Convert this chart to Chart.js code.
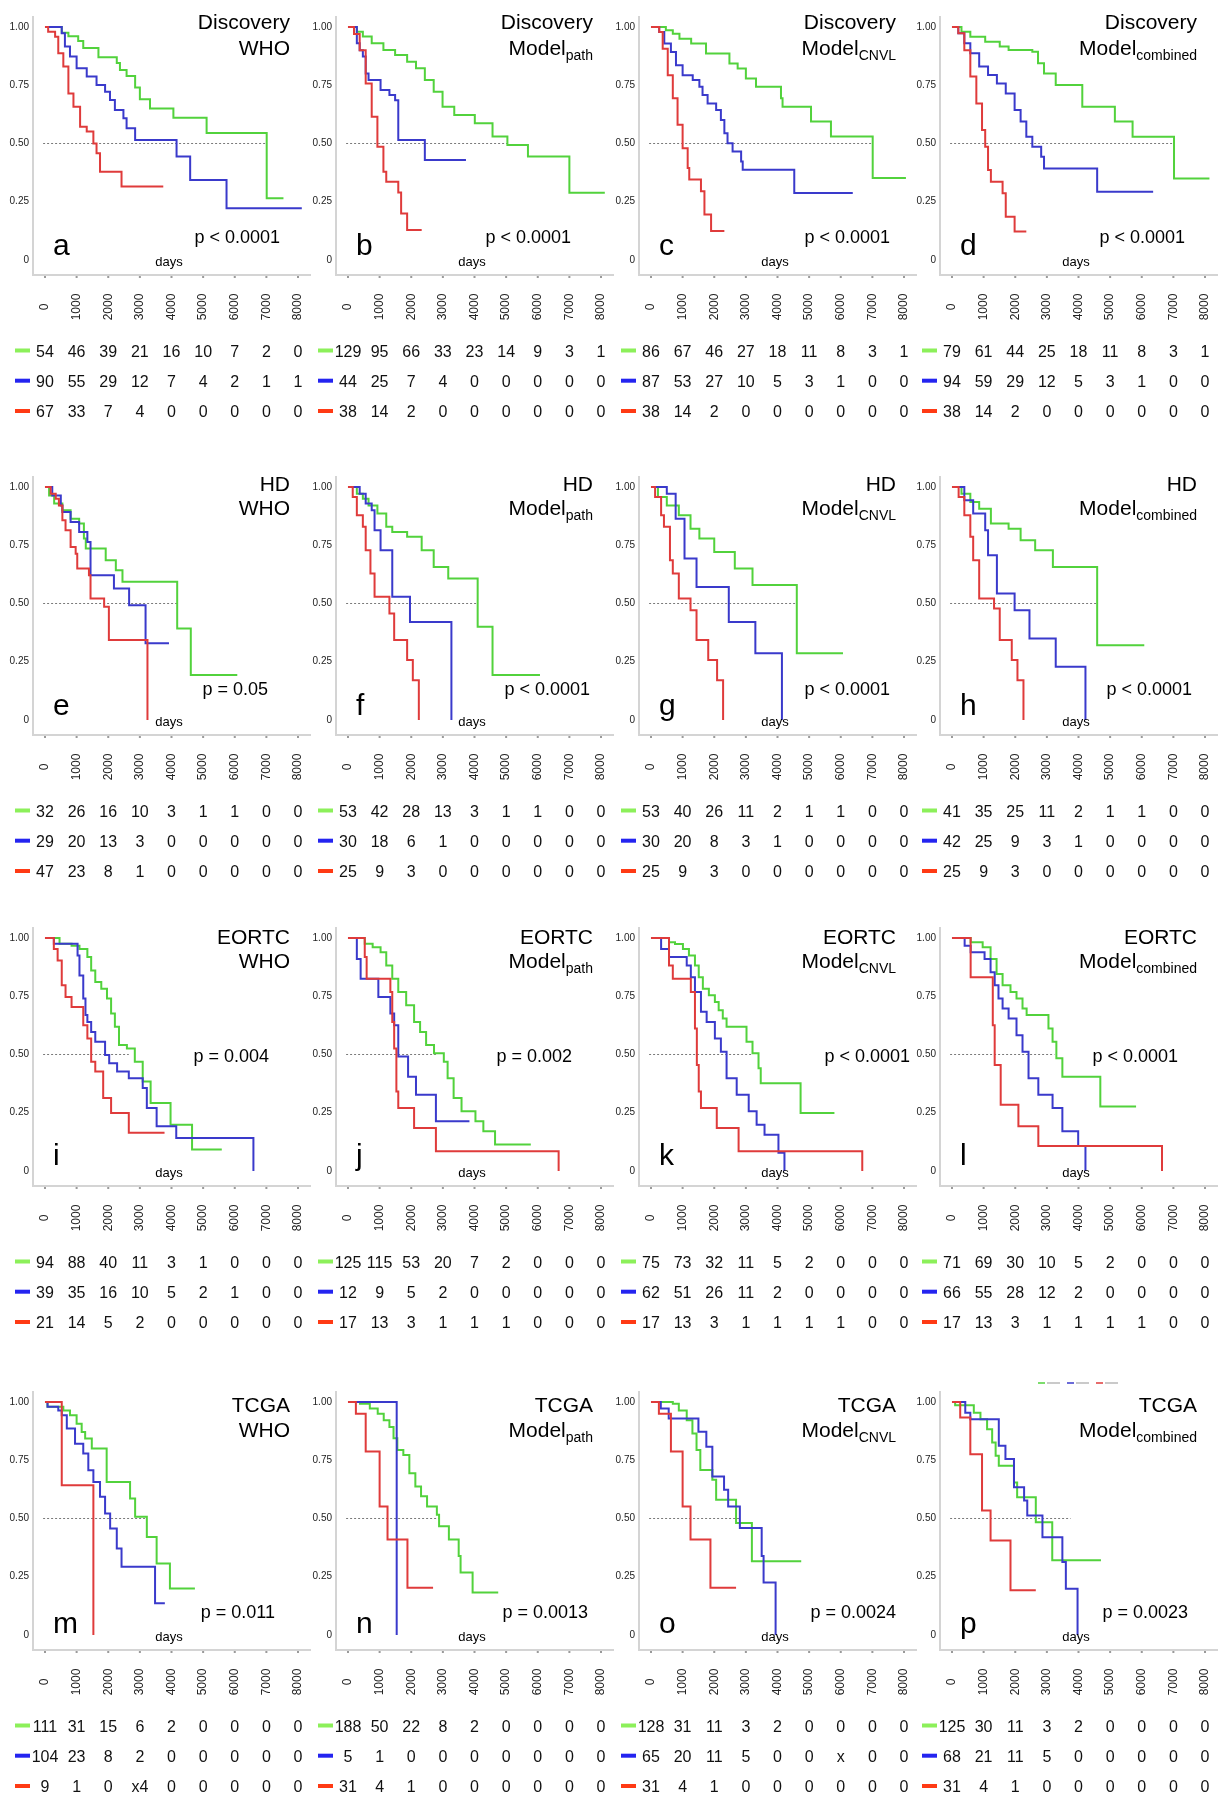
<!DOCTYPE html>
<html>
<head>
<meta charset="utf-8">
<script src="https://cdn.jsdelivr.net/npm/chart.js@4.4.0/dist/chart.umd.min.js"></script>
<style>
  body { margin: 0; background: #fff; }
  #fig { position: relative; width: 1225px; height: 1811px; overflow: hidden; }
  #fig canvas { position: absolute; }
</style>
</head>
<body>
<div id="fig"></div>
<script>
// ---- axis ticks ----
const dayTicks = [0, 1000, 2000, 3000, 4000, 5000, 6000, 7000, 8000];
const yTicks = [0, 0.25, 0.5, 0.75, 1];
const yTickLabels = ['0', '0.25', '0.50', '0.75', '1.00'];

// ---- Kaplan-Meier curves: [day, survival] ----
// Discovery
const aGreen = [[0,1],[530,0.975],[740,0.96],[1050,0.94],[1210,0.91],[1690,0.87],[2270,0.845],[2370,0.815],[2580,0.79],[2850,0.74],[3000,0.69],[3320,0.65],[4060,0.61],[5110,0.545],[7010,0.265],[7540,0.265]];
const aBlue = [[0,1],[530,0.973],[630,0.916],[790,0.873],[1000,0.823],[1320,0.787],[1630,0.751],[1900,0.722],[2055,0.687],[2210,0.644],[2480,0.608],[2580,0.565],[2850,0.515],[4160,0.444],[4590,0.343],[5740,0.222],[8120,0.222]];
const aRed = [[0,1],[100,0.98],[320,0.958],[420,0.887],[580,0.83],[740,0.715],[900,0.658],[1110,0.572],[1320,0.551],[1530,0.5],[1630,0.458],[1740,0.379],[2420,0.315],[3740,0.315]];

const bGreen = [[0,1],[280,0.98],[470,0.959],[750,0.93],[1120,0.901],[1490,0.88],[1870,0.851],[2150,0.823],[2430,0.773],[2710,0.722],[2990,0.658],[3360,0.622],[4010,0.587],[4570,0.53],[5040,0.494],[5690,0.444],[7000,0.289],[8120,0.289]];
const bBlue = [[0,1],[280,0.93],[370,0.9],[470,0.873],[560,0.8],[650,0.773],[1030,0.73],[1310,0.708],[1490,0.686],[1590,0.515],[2430,0.429],[3730,0.429]];
const bRed = [[0,1],[190,0.97],[370,0.9],[560,0.758],[750,0.615],[930,0.486],[1120,0.379],[1210,0.336],[1590,0.29],[1680,0.2],[1870,0.129],[2330,0.129]];

const cGreen = [[0,1],[470,0.986],[690,0.971],[900,0.95],[1270,0.929],[1740,0.886],[2480,0.843],[2740,0.822],[3000,0.779],[3320,0.744],[4110,0.694],[4160,0.658],[5060,0.594],[5690,0.53],[7010,0.352],[8060,0.352]];
const cBlue = [[0,1],[260,0.979],[420,0.929],[630,0.893],[790,0.836],[1000,0.793],[1320,0.772],[1530,0.744],[1630,0.708],[1790,0.672],[2060,0.644],[2210,0.601],[2320,0.544],[2420,0.501],[2580,0.466],[2850,0.423],[2900,0.387],[4530,0.288],[6380,0.288]];
const cRed = [[0,1],[260,0.979],[370,0.907],[530,0.793],[690,0.694],[840,0.58],[1000,0.48],[1160,0.395],[1210,0.345],[1580,0.295],[1690,0.195],[1900,0.124],[2320,0.124]];

const dGreen = [[0,1],[300,0.98],[580,0.958],[1050,0.937],[1510,0.916],[1790,0.901],[2540,0.894],[2720,0.844],[2910,0.8],[3280,0.751],[4120,0.658],[5150,0.594],[5710,0.529],[7020,0.35],[8140,0.35]];
const dBlue = [[0,1],[200,0.973],[390,0.93],[580,0.887],[860,0.83],[1140,0.794],[1420,0.758],[1700,0.715],[1980,0.644],[2170,0.594],[2350,0.529],[2540,0.486],[2820,0.443],[2910,0.393],[4590,0.293],[6360,0.293]];
const dRed = [[0,1],[200,0.973],[390,0.9],[580,0.787],[770,0.672],[950,0.558],[1050,0.486],[1140,0.386],[1230,0.336],[1600,0.286],[1700,0.186],[1980,0.122],[2350,0.122]];

// HD
const eGreen = [[0,1],[130,0.964],[290,0.929],[550,0.9],[810,0.864],[1080,0.843],[1230,0.779],[1290,0.736],[1920,0.686],[2240,0.643],[2450,0.593],[4180,0.393],[4610,0.193],[6080,0.193]];
const eBlue = [[0,1],[230,0.964],[500,0.921],[550,0.893],[810,0.85],[1080,0.807],[1340,0.764],[1440,0.621],[2180,0.564],[2660,0.493],[3180,0.329],[3920,0.329]];
const eRed = [[0,1],[180,0.971],[340,0.95],[440,0.921],[550,0.857],[650,0.814],[810,0.743],[970,0.714],[1020,0.65],[1390,0.621],[1440,0.521],[1870,0.486],[2020,0.343],[3240,0]];

const fGreen = [[0,1],[280,0.971],[470,0.95],[650,0.921],[930,0.886],[1210,0.829],[1400,0.807],[1870,0.786],[2330,0.729],[2710,0.657],[3170,0.607],[4100,0.4],[4570,0.193],[6070,0.193]];
const fBlue = [[0,1],[370,0.971],[560,0.929],[750,0.9],[840,0.814],[1030,0.729],[1400,0.529],[1960,0.421],[3270,0]];
const fRed = [[0,1],[150,0.957],[280,0.879],[470,0.829],[560,0.729],[710,0.629],[840,0.529],[1310,0.457],[1460,0.343],[1870,0.257],[2050,0.171],[2240,0]];

const gGreen = [[0,1],[220,0.957],[500,0.921],[880,0.879],[1250,0.821],[1530,0.779],[2000,0.721],[2650,0.65],[3210,0.579],[4610,0.286],[6070,0.286]];
const gBlue = [[0,1],[500,0.971],[780,0.864],[1060,0.693],[1440,0.571],[2460,0.421],[3300,0.286],[4140,0]];
const gRed = [[0,1],[130,0.957],[320,0.879],[410,0.829],[600,0.686],[690,0.629],[880,0.521],[1250,0.471],[1440,0.343],[1810,0.257],[2090,0.171],[2280,0]];

const hGreen = [[0,1],[300,0.971],[580,0.936],[860,0.907],[1230,0.843],[1790,0.821],[2170,0.771],[2630,0.729],[3190,0.657],[4590,0.321],[6080,0.321]];
const hBlue = [[0,1],[390,0.943],[670,0.886],[1050,0.814],[1140,0.707],[1420,0.543],[1980,0.471],[2450,0.35],[3280,0.229],[4220,0]];
const hRed = [[0,1],[210,0.957],[390,0.879],[580,0.786],[670,0.686],[860,0.521],[1330,0.479],[1510,0.343],[1890,0.257],[2070,0.171],[2260,0]];

// EORTC
const iGreen = [[0,1],[460,0.975],[840,0.967],[1090,0.953],[1340,0.918],[1460,0.861],[1590,0.811],[1780,0.782],[1960,0.74],[2090,0.676],[2210,0.619],[2340,0.541],[2590,0.526],[2840,0.469],[3090,0.384],[3340,0.292],[3970,0.199],[4650,0.092],[5590,0.092]];
const iBlue = [[0,1],[280,0.975],[1030,0.925],[1090,0.839],[1210,0.74],[1280,0.669],[1340,0.64],[1460,0.597],[1590,0.555],[1900,0.498],[2030,0.462],[2280,0.427],[2650,0.398],[3090,0.356],[3220,0.27],[3530,0.192],[4150,0.142],[6590,0]];
const iRed = [[0,1],[280,0.953],[400,0.903],[530,0.797],[650,0.747],[840,0.704],[1210,0.626],[1340,0.569],[1460,0.469],[1590,0.427],[1840,0.313],[2090,0.249],[2650,0.164],[3780,0.164]];

const jGreen = [[0,1],[530,0.975],[780,0.96],[1030,0.939],[1210,0.882],[1400,0.825],[1590,0.768],[1840,0.711],[2090,0.64],[2280,0.597],[2470,0.541],[2720,0.505],[3030,0.469],[3150,0.398],[3340,0.313],[3590,0.256],[4030,0.213],[4280,0.171],[4650,0.114],[5780,0.114]];
const jBlue = [[0,1],[280,0.91],[400,0.825],[960,0.747],[1340,0.676],[1460,0.626],[1590,0.491],[1900,0.405],[2150,0.327],[2780,0.213],[3840,0.213]];
const jRed = [[0,1],[530,0.918],[590,0.825],[1340,0.768],[1400,0.64],[1460,0.526],[1530,0.341],[1590,0.27],[2090,0.185],[2780,0.085],[6660,0]];

const kGreen = [[0,1],[570,0.982],[760,0.974],[1010,0.953],[1200,0.925],[1390,0.882],[1510,0.832],[1640,0.782],[1830,0.754],[2020,0.725],[2140,0.69],[2270,0.654],[2390,0.619],[3020,0.555],[3210,0.505],[3400,0.441],[3470,0.377],[4730,0.249],[5800,0.249]];
const kBlue = [[0,1],[320,0.953],[570,0.918],[1130,0.882],[1260,0.832],[1390,0.768],[1580,0.683],[1760,0.64],[2020,0.569],[2210,0.512],[2390,0.398],[2710,0.327],[3090,0.256],[3340,0.199],[3590,0.156],[4030,0.078],[4220,0]];
const kRed = [[0,1],[570,0.882],[690,0.825],[1260,0.768],[1390,0.612],[1450,0.455],[1510,0.341],[1580,0.27],[2080,0.185],[2770,0.085],[6680,0]];

const lGreen = [[0,1],[590,0.982],[970,0.96],[1220,0.91],[1410,0.846],[1600,0.797],[1850,0.768],[2040,0.74],[2230,0.697],[2360,0.669],[3050,0.612],[3180,0.555],[3300,0.484],[3490,0.405],[4690,0.277],[5820,0.277]];
const lBlue = [[0,1],[400,0.967],[590,0.939],[1030,0.91],[1220,0.853],[1350,0.797],[1470,0.74],[1600,0.697],[1790,0.654],[2040,0.583],[2230,0.512],[2420,0.398],[2730,0.327],[3180,0.27],[3490,0.171],[3990,0.107],[4220,0]];
const lRed = [[0,1],[590,0.832],[1290,0.626],[1350,0.455],[1540,0.284],[2100,0.192],[2730,0.107],[6640,0]];

// TCGA
const mGreen = [[0,1],[80,0.98],[580,0.964],[790,0.943],[1000,0.907],[1160,0.871],[1270,0.843],[1480,0.8],[1950,0.657],[2690,0.586],[2850,0.507],[3220,0.421],[3530,0.307],[3950,0.2],[4740,0.2]];
const mBlue = [[0,1],[80,0.98],[420,0.964],[530,0.943],[690,0.886],[950,0.821],[1210,0.779],[1370,0.707],[1530,0.657],[1740,0.593],[1900,0.521],[2060,0.457],[2270,0.371],[2420,0.293],[3480,0.136],[3790,0.136]];
const mRed = [[0,1],[530,0.643],[1530,0]];

const nGreen = [[0,1],[380,0.993],[690,0.972],[940,0.95],[1130,0.922],[1310,0.893],[1440,0.844],[1560,0.794],[1750,0.772],[1940,0.694],[2130,0.637],[2310,0.595],[2500,0.552],[2810,0.516],[2880,0.467],[3190,0.41],[3500,0.339],[3560,0.268],[3940,0.182],[4750,0.182]];
const nBlue = [[0,1],[1540,0]];
const nRed = [[0,1],[250,0.95],[560,0.787],[1000,0.552],[1250,0.41],[1880,0.203],[2690,0.203]];

const oGreen = [[0,1],[690,0.993],[880,0.964],[1130,0.922],[1310,0.865],[1440,0.794],[1560,0.708],[1940,0.666],[2060,0.58],[2690,0.481],[3190,0.317],[4750,0.317]];
const oBlue = [[0,1],[310,0.972],[560,0.929],[1500,0.872],[1750,0.808],[1940,0.68],[2310,0.623],[2440,0.552],[2810,0.459],[3500,0.339],[3560,0.225],[3940,0]];
const oRed = [[0,1],[250,0.95],[630,0.787],[1000,0.552],[1250,0.41],[1880,0.203],[2690,0.203]];

const pGreen = [[0,1],[100,0.986],[690,0.954],[900,0.926],[1110,0.883],[1270,0.826],[1380,0.769],[1480,0.726],[1960,0.655],[2060,0.591],[2650,0.484],[3170,0.321],[4710,0.321]];
const pBlue = [[0,1],[420,0.954],[580,0.926],[1480,0.812],[1690,0.755],[1960,0.634],[2280,0.577],[2380,0.513],[2860,0.42],[3490,0.313],[3600,0.199],[3970,0]];
const pRed = [[0,1],[260,0.933],[580,0.776],[950,0.534],[1220,0.406],[1850,0.192],[2650,0.192]];

// ---- numbers at risk (green, blue, red) ----
const aRisk = [[54,46,39,21,16,10,7,2,0],[90,55,29,12,7,4,2,1,1],[67,33,7,4,0,0,0,0,0]];
const bRisk = [[129,95,66,33,23,14,9,3,1],[44,25,7,4,0,0,0,0,0],[38,14,2,0,0,0,0,0,0]];
const cRisk = [[86,67,46,27,18,11,8,3,1],[87,53,27,10,5,3,1,0,0],[38,14,2,0,0,0,0,0,0]];
const dRisk = [[79,61,44,25,18,11,8,3,1],[94,59,29,12,5,3,1,0,0],[38,14,2,0,0,0,0,0,0]];
const eRisk = [[32,26,16,10,3,1,1,0,0],[29,20,13,3,0,0,0,0,0],[47,23,8,1,0,0,0,0,0]];
const fRisk = [[53,42,28,13,3,1,1,0,0],[30,18,6,1,0,0,0,0,0],[25,9,3,0,0,0,0,0,0]];
const gRisk = [[53,40,26,11,2,1,1,0,0],[30,20,8,3,1,0,0,0,0],[25,9,3,0,0,0,0,0,0]];
const hRisk = [[41,35,25,11,2,1,1,0,0],[42,25,9,3,1,0,0,0,0],[25,9,3,0,0,0,0,0,0]];
const iRisk = [[94,88,40,11,3,1,0,0,0],[39,35,16,10,5,2,1,0,0],[21,14,5,2,0,0,0,0,0]];
const jRisk = [[125,115,53,20,7,2,0,0,0],[12,9,5,2,0,0,0,0,0],[17,13,3,1,1,1,0,0,0]];
const kRisk = [[75,73,32,11,5,2,0,0,0],[62,51,26,11,2,0,0,0,0],[17,13,3,1,1,1,1,0,0]];
const lRisk = [[71,69,30,10,5,2,0,0,0],[66,55,28,12,2,0,0,0,0],[17,13,3,1,1,1,1,0,0]];
const mRisk = [[111,31,15,6,2,0,0,0,0],[104,23,8,2,0,0,0,0,0],[9,1,0,'x4',0,0,0,0,0]];
const nRisk = [[188,50,22,8,2,0,0,0,0],[5,1,0,0,0,0,0,0,0],[31,4,1,0,0,0,0,0,0]];
const oRisk = [[128,31,11,3,2,0,0,0,0],[65,20,11,5,0,0,'x',0,0],[31,4,1,0,0,0,0,0,0]];
const pRisk = [[125,30,11,3,2,0,0,0,0],[68,21,11,5,0,0,0,0,0],[31,4,1,0,0,0,0,0,0]];

// ---- labels ----
const cohorts = ['Discovery', 'HD', 'EORTC', 'TCGA'];
const models = [['WHO', ''], ['Model', 'path'], ['Model', 'CNVL'], ['Model', 'combined']];
const letters = ['a','b','c','d','e','f','g','h','i','j','k','l','m','n','o','p'];
const pValues = ['p < 0.0001','p < 0.0001','p < 0.0001','p < 0.0001',
                 'p = 0.05','p < 0.0001','p < 0.0001','p < 0.0001',
                 'p = 0.004','p = 0.002','p < 0.0001','p < 0.0001',
                 'p = 0.011','p = 0.0013','p = 0.0024','p = 0.0023'];
// where the dotted median line stops (days)
const medianEnd = [7010, 5040, 7010, 7020, 4180, 4100, 4610, 4590, 2650, 2780, 3210, 3240, 3160, 2880, 2810, 3750];

const curves = [
  [aGreen, aBlue, aRed], [bGreen, bBlue, bRed], [cGreen, cBlue, cRed], [dGreen, dBlue, dRed],
  [eGreen, eBlue, eRed], [fGreen, fBlue, fRed], [gGreen, gBlue, gRed], [hGreen, hBlue, hRed],
  [iGreen, iBlue, iRed], [jGreen, jBlue, jRed], [kGreen, kBlue, kRed], [lGreen, lBlue, lRed],
  [mGreen, mBlue, mRed], [nGreen, nBlue, nRed], [oGreen, oBlue, oRed], [pGreen, pBlue, pRed]
];
const risks = [aRisk, bRisk, cRisk, dRisk, eRisk, fRisk, gRisk, hRisk, iRisk, jRisk, kRisk, lRisk, mRisk, nRisk, oRisk, pRisk];

// ---- layout ----
const W = 320, H = 425;
const colX = [0, 303, 606, 907];
const rowY = [0, 460, 911, 1375];
const title1Y = [29, 31, 33, 37];
const title2Y = [55, 55, 57, 62];
const letterY = [255, 255, 254, 258];
const pY = [243, 235, 151, 243];
const pRight = [280, 268, 284, 278, 268, 287, 284, 285, 269, 269, 304, 271, 275, 285, 290, 281];
const riskY = [350.5, 380.7, 411];
const lineColors = ['#52d23c', '#3a3acb', '#df3b3b'];
const glowColors = ['rgba(120,230,90,0.45)', 'rgba(80,80,220,0.35)', 'rgba(230,80,80,0.35)'];
const markColors = ['#8cf05a', '#2424f0', '#ff3a14'];
const FONT = '"Liberation Sans", Arial, Helvetica, sans-serif';

// soft halo round the curves, as in the scanned figure
const curveGlow = {
  id: 'curveGlow',
  beforeDatasetDraw(chart, args) {
    const g = args.meta.dataset.options.glow;
    chart.ctx.save();
    if (g) { chart.ctx.shadowColor = g; chart.ctx.shadowBlur = 3; }
  },
  afterDatasetDraw(chart) {
    chart.ctx.restore();
  }
};

const panelText = {
  id: 'panelText',
  afterDraw(chart, args, o) {
    const ctx = chart.ctx;
    const xs = chart.scales.x, ys = chart.scales.y;
    const r = Math.floor(o.index / 4);
    ctx.save();

    // x tick dots
    ctx.fillStyle = '#9a9a9a';
    dayTicks.forEach(d => ctx.fillRect(xs.getPixelForValue(d) - 1, ys.bottom + 1, 2, 2));

    // y tick labels
    ctx.fillStyle = '#222';
    ctx.font = '10px ' + FONT;
    ctx.textAlign = 'right';
    ctx.textBaseline = 'middle';
    yTicks.forEach((v, i) => ctx.fillText(yTickLabels[i], 29, ys.getPixelForValue(v)));

    // rotated day labels
    ctx.font = '12px ' + FONT;
    ctx.textAlign = 'center';
    dayTicks.forEach(d => {
      ctx.save();
      ctx.translate(xs.getPixelForValue(d), 307);
      ctx.rotate(-Math.PI / 2);
      ctx.fillText(String(d), 0, 0);
      ctx.restore();
    });

    // numbers at risk
    ctx.textBaseline = 'alphabetic';
    ctx.font = '16px ' + FONT;
    o.risk.forEach((row, k) => {
      ctx.fillStyle = markColors[k];
      ctx.fillRect(15, riskY[k] - 2, 15, 4);
      ctx.fillStyle = '#111';
      row.forEach((n, j) => ctx.fillText(String(n), xs.getPixelForValue(dayTicks[j]), riskY[k] + 6));
    });

    // title
    ctx.fillStyle = '#000';
    ctx.textAlign = 'right';
    ctx.font = '21px ' + FONT;
    ctx.fillText(cohorts[r], 290, title1Y[r]);
    const m = models[o.index % 4];
    if (m[1]) {
      ctx.font = '14px ' + FONT;
      const sw = ctx.measureText(m[1]).width;
      ctx.fillText(m[1], 290, title2Y[r] + 5);
      ctx.font = '21px ' + FONT;
      ctx.fillText(m[0], 290 - sw, title2Y[r]);
    } else {
      ctx.fillText(m[0], 290, title2Y[r]);
    }

    // p value
    ctx.font = '18px ' + FONT;
    ctx.fillText(pValues[o.index], pRight[o.index], pY[r]);

    // panel letter
    ctx.textAlign = 'left';
    ctx.font = '30px ' + FONT;
    ctx.fillText(letters[o.index], 53, letterY[r]);

    // axis caption
    ctx.textAlign = 'center';
    ctx.font = '13px ' + FONT;
    ctx.fillText('days', 169, 266);

    // the tiny leftover legend key above the last panel
    if (o.index === 15) {
      ctx.lineWidth = 1.5;
      [131, 160, 189].forEach((x, k) => {
        ctx.strokeStyle = lineColors[k];
        ctx.beginPath(); ctx.moveTo(x, 8); ctx.lineTo(x + 7, 8); ctx.stroke();
        ctx.strokeStyle = '#b8b8b8';
        ctx.beginPath(); ctx.moveTo(x + 9, 8); ctx.lineTo(x + 22, 8); ctx.stroke();
      });
    }

    ctx.restore();
  }
};

const fig = document.getElementById('fig');
curves.forEach((set, idx) => {
  const r = Math.floor(idx / 4), c = idx % 4;
  const cv = document.createElement('canvas');
  cv.width = W; cv.height = H;
  cv.style.left = colX[c] + 'px';
  cv.style.top = rowY[r] + 'px';
  fig.appendChild(cv);

  const lines = set.map((pts, k) => ({
    data: pts,
    borderColor: lineColors[k],
    glow: glowColors[k],
    borderWidth: 2,
    stepped: true,
    pointRadius: 0,
    fill: false
  })).reverse();
  lines.push({
    data: [[-60, 0.5], [medianEnd[idx], 0.5]],
    borderColor: '#7a7a7a',
    borderWidth: 1,
    borderDash: [2, 2],
    pointRadius: 0,
    fill: false
  });

  new Chart(cv, {
    type: 'line',
    data: { datasets: lines },
    options: {
      responsive: false,
      animation: false,
      devicePixelRatio: 1,
      layout: { padding: { left: 33, top: 17, right: W - 310, bottom: H - 275 } },
      plugins: {
        legend: { display: false },
        tooltip: { enabled: false },
        panelText: { index: idx, risk: risks[idx] }
      },
      scales: {
        x: {
          type: 'linear', min: -379, max: 8379,
          ticks: { display: false, stepSize: 1000, includeBounds: false },
          grid: { display: false, drawTicks: false },
          border: { display: true, color: '#d4d4d4', width: 2 }
        },
        y: {
          type: 'linear', min: -0.0644, max: 1.0429,
          ticks: { display: false },
          grid: { display: false, drawTicks: false },
          border: { display: true, color: '#d4d4d4', width: 2 }
        }
      }
    },
    plugins: [curveGlow, panelText]
  });
});
</script>
</body>
</html>
